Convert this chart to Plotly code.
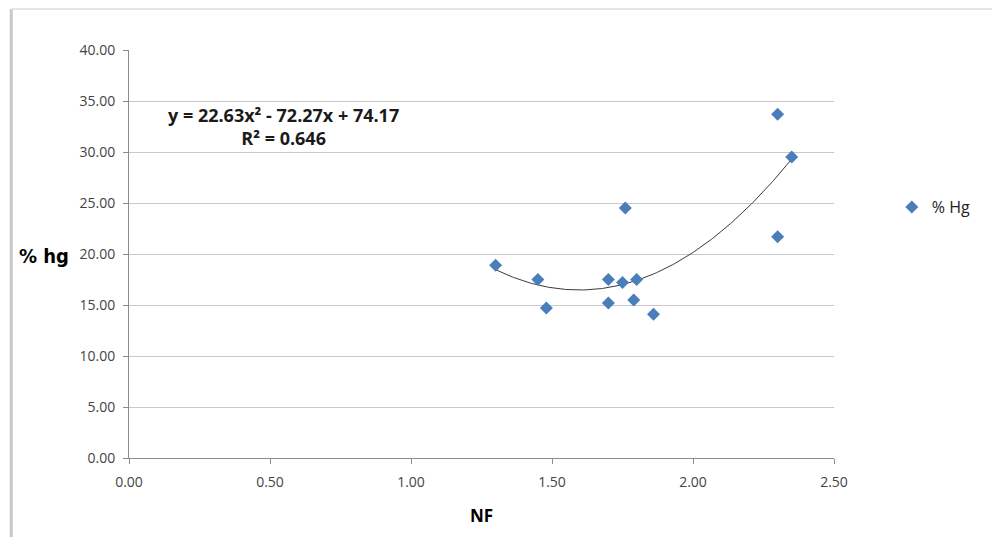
import numpy as np
import plotly.graph_objects as go

# Data
nf = [1.30, 1.45, 1.48, 1.70, 1.70, 1.75, 1.76, 1.80, 1.79, 1.86, 2.30, 2.30, 2.35]
hg = [18.9, 17.5, 14.7, 17.5, 15.2, 17.2, 24.5, 17.5, 15.5, 14.1, 21.7, 33.7, 29.5]

# Trendline coefficients as printed on the chart
coef_a, coef_b, coef_c = 22.63, -72.27, 74.17
r_squared = 0.646

x_ticks = [0.0, 0.5, 1.0, 1.5, 2.0, 2.5]
y_ticks = [0, 5, 10, 15, 20, 25, 30, 35, 40]

tx = np.linspace(min(nf), max(nf), 200)
ty = coef_a * tx**2 + coef_b * tx + coef_c

fig = go.Figure()
fig.add_trace(go.Scatter(
    x=tx, y=ty, mode="lines", showlegend=False, hoverinfo="skip",
    line=dict(color="#3a3a3a", width=1)))
fig.add_trace(go.Scatter(
    x=nf, y=hg, mode="markers", name="% Hg",
    marker=dict(symbol="diamond", size=10, color="#4A7EBB")))

tick_font = dict(family="Open Sans, sans-serif", size=14, color="#444444")

fig.update_xaxes(
    range=[0, 2.5], tickvals=x_ticks, ticktext=[f"{v:.2f}" for v in x_ticks],
    showgrid=False, zeroline=False, showline=True, linecolor="#8c8c8c", linewidth=1,
    ticks="outside", ticklen=5, tickcolor="#8c8c8c", tickfont=tick_font,
    ticklabelstandoff=6,
    title=dict(text="<b>NF</b>", font=dict(family="Open Sans, sans-serif", size=17, color="#000"), standoff=20))
fig.update_yaxes(
    range=[0, 40], tickvals=y_ticks, ticktext=[f"{v:.2f}" for v in y_ticks],
    showgrid=True, gridcolor="#c8c8c8", gridwidth=1, zeroline=False,
    showline=True, linecolor="#8c8c8c", linewidth=1,
    ticks="outside", ticklen=5, tickcolor="#8c8c8c", tickfont=tick_font,
    ticklabelstandoff=5)

fig.add_annotation(
    x=0.549, y=32.5, xref="x", yref="y", showarrow=False, align="center",
    text=f"<b>y = {coef_a:.2f}x² - {abs(coef_b):.2f}x + {coef_c:.2f}<br>R² = {r_squared:.3f}</b>",
    font=dict(family="Open Sans, sans-serif", size=18, color="#1a1a1a"))
fig.add_annotation(
    x=-0.1206, y=0.495, xref="paper", yref="paper", showarrow=False,
    text="<b>% hg</b>", xanchor="center", yanchor="middle",
    font=dict(family="DejaVu Sans Condensed, sans-serif", size=20, color="#000"))

# outer chart frame (left and top edges visible in the reference)
fig.add_shape(type="line", xref="paper", yref="paper", x0=-0.167, x1=-0.167, y0=-0.3, y1=1.1005,
              line=dict(color="#c8c8c4", width=3))
fig.add_shape(type="line", xref="paper", yref="paper", x0=-0.167, x1=1.3, y0=1.1005, y1=1.1005,
              line=dict(color="#e6e6de", width=2))

fig.update_layout(
    width=992, height=529,
    margin=dict(l=121, r=166, t=42, b=79),
    plot_bgcolor="white", paper_bgcolor="white",
    showlegend=True,
    legend=dict(x=1.082, y=0.615, yanchor="middle", xanchor="left",
                font=dict(family="Open Sans, sans-serif", size=16, color="#222"),
                bgcolor="rgba(0,0,0,0)"),
)

fig.write_html("out.html")
